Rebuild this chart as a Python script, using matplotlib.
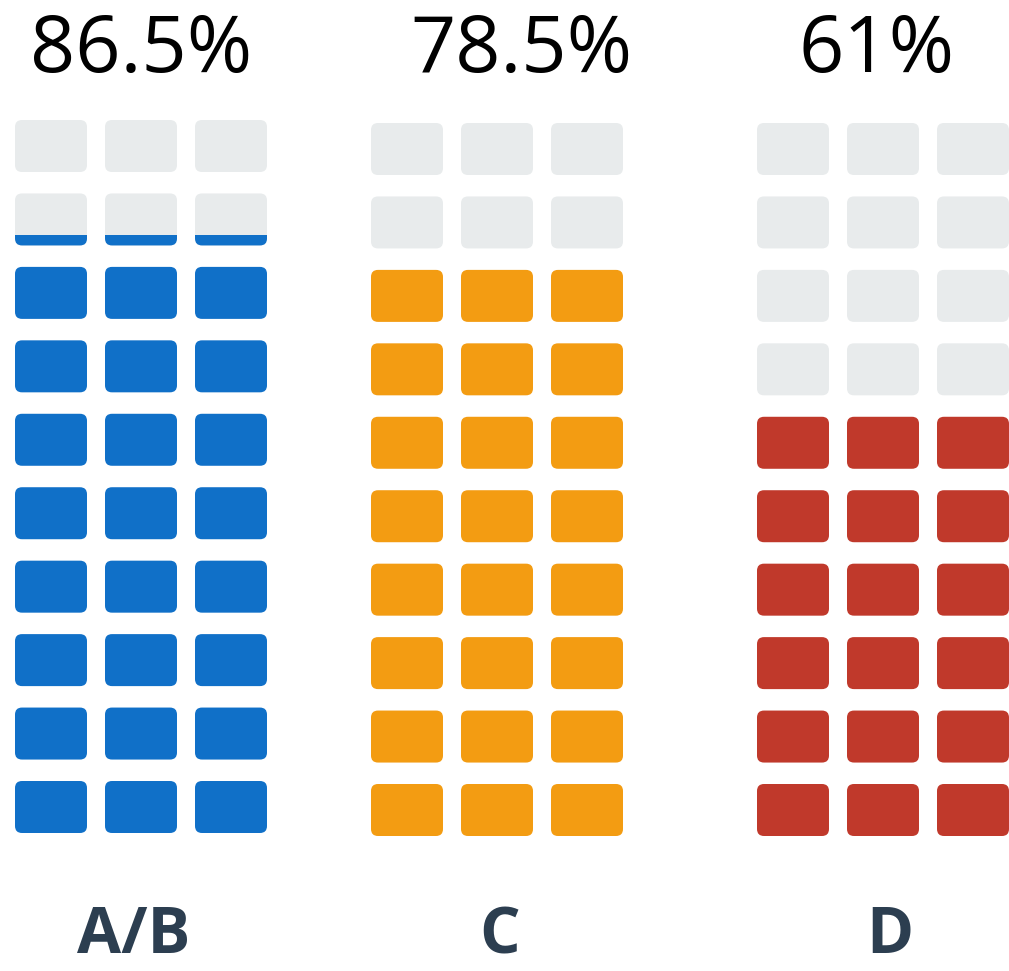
import matplotlib
matplotlib.use("Agg")
import matplotlib.pyplot as plt
from matplotlib.patches import FancyBboxPatch, Rectangle

# ---- data ----
categories = ["A/B", "C", "D"]
pct_labels = ["86.5%", "78.5%", "61%"]
filled_rows = [8.2, 8.0, 6.0]          # rows (of 10) filled, bottom-up
fill_colors = ["#1070c8", "#f39c12", "#c0392b"]
empty_color = "#e8ebec"
label_color = "#2c3e50"

# ---- layout (pixels) ----
W, H = 1009, 971
n_rows, n_cols = 10, 3
cell_w, cell_h = 72, 52
col_pitch = 90
row_pitch = (781 - 120) / 9
col_left = [15, 371, 757]
col_top = [120, 123, 123]
pct_x = [141, 521, 877]
pct_y = 72
lab_x = [134, 500, 890]
lab_y = 969
radius = 7

fig = plt.figure(figsize=(W / 100, H / 100), dpi=100)
ax = fig.add_axes([0, 0, 1, 1])
ax.set_xlim(0, W)
ax.set_ylim(H, 0)
ax.axis("off")

def rbox(x, y, w, h, color):
    return FancyBboxPatch((x + radius, y + radius), w - 2 * radius, h - 2 * radius,
                          boxstyle=f"round,pad={radius}", linewidth=0,
                          facecolor=color, edgecolor="none")

for g in range(len(categories)):
    for r in range(n_rows):          # r = 0 is top row
        row_from_bottom = n_rows - 1 - r
        frac = min(max(filled_rows[g] - row_from_bottom, 0), 1)
        y = col_top[g] + r * row_pitch
        for c in range(n_cols):
            x = col_left[g] + c * col_pitch
            if frac < 1:
                ax.add_patch(rbox(x, y, cell_w, cell_h, empty_color))
            if frac > 0:
                p = rbox(x, y, cell_w, cell_h, fill_colors[g])
                ax.add_patch(p)
                if frac < 1:
                    clip = Rectangle((x - 1, y + cell_h * (1 - frac)), cell_w + 2,
                                     cell_h * frac + 1, transform=ax.transData)
                    p.set_clip_path(clip)
    ax.text(pct_x[g], pct_y, pct_labels[g], ha="center", va="baseline",
            fontsize=57, family="Open Sans", color="black")
    ax.text(lab_x[g], lab_y, categories[g], ha="center", va="bottom",
            fontsize=46, family="Open Sans", fontweight="bold", color=label_color)

fig.savefig("out.png", dpi=100)
